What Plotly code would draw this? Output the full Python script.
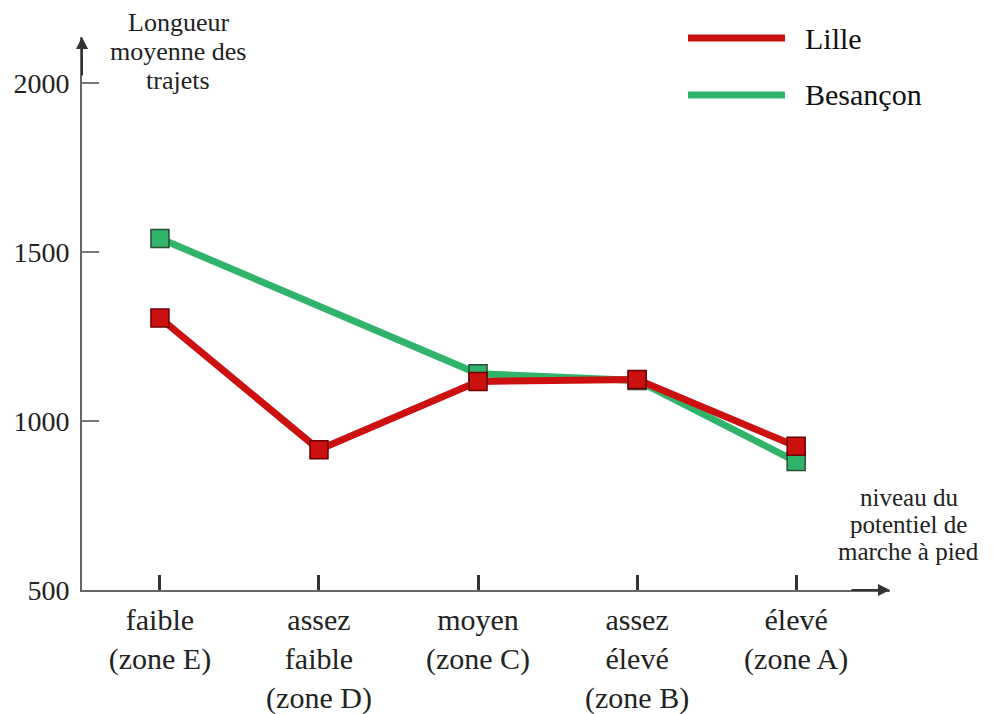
import plotly.graph_objects as go

categories = ["faible<br>(zone E)", "assez<br>faible<br>(zone D)", "moyen<br>(zone C)",
              "assez<br>élevé<br>(zone B)", "élevé<br>(zone A)"]
lille = [1305, 915, 1117, 1123, 925]
besancon = [1540, None, 1140, 1120, 880]
y_ticks = [500, 1000, 1500, 2000]

# page body has an 8px margin: the figure is drawn 8px right and down
OFF = 8
W, H = 993 - OFF, 714 - OFF
# plot area in screen pixels: x 82..890, y 37..590
L, T = 82 - OFF, 37 - OFF
R = W - (890 - OFF)
B = H - (590 - OFF)
PW, PH = W - L - R, H - T - B
FONT = "Liberation Serif"
RED, RED_EDGE = "#cc1010", "#6a0000"
GREEN, GREEN_EDGE = "#30b46c", "#2c4a36"


def px(x):
    return (x - OFF - L) / PW


def py(y):
    return (T + PH - (y - OFF)) / PH


fig = go.Figure()
fig.add_trace(go.Scatter(
    x=categories, y=besancon, mode="lines+markers", connectgaps=True, name="Besançon",
    line=dict(color=GREEN, width=7),
    marker=dict(symbol="square", size=18, color=GREEN, line=dict(color=GREEN_EDGE, width=1.5)),
))
fig.add_trace(go.Scatter(
    x=categories, y=lille, mode="lines+markers", name="Lille",
    line=dict(color=RED, width=7),
    marker=dict(symbol="square", size=18, color=RED, line=dict(color=RED_EDGE, width=1.5)),
))

annotations = []
# y-axis title
for text, yc in [("Longueur", 22), ("moyenne des", 51), ("trajets", 80)]:
    annotations.append(dict(xref="paper", yref="paper", x=px(178), y=py(yc), text=text,
                            showarrow=False, xanchor="center", yanchor="middle",
                            font=dict(family=FONT, size=26, color="#222")))
# x-axis title
for text, yc in [("niveau du", 497), ("potentiel de", 524), ("marche à pied", 551)]:
    annotations.append(dict(xref="paper", yref="paper", x=px(909), y=py(yc), text=text,
                            showarrow=False, xanchor="center", yanchor="middle",
                            font=dict(family=FONT, size=25, color="#222")))
# legend texts
for text, yc in [("Lille", 38), ("Besançon", 95)]:
    annotations.append(dict(xref="paper", yref="paper", x=px(803), y=py(yc), text=text,
                            showarrow=False, xanchor="left", yanchor="middle",
                            font=dict(family=FONT, size=30, color="#111")))
# axis arrows
annotations.append(dict(xref="paper", yref="paper", x=0, y=1, ax=0, ay=40,
                        showarrow=True, arrowhead=2, arrowsize=1.2, arrowwidth=2,
                        arrowcolor="#333", text=""))
annotations.append(dict(xref="paper", yref="paper", x=1, y=0, ax=-40, ay=0,
                        showarrow=True, arrowhead=2, arrowsize=1.2, arrowwidth=2,
                        arrowcolor="#333", text=""))

shapes = [
    dict(type="line", xref="paper", yref="paper", x0=px(688), x1=px(785), y0=py(38), y1=py(38),
         line=dict(color=RED, width=7)),
    dict(type="line", xref="paper", yref="paper", x0=px(688), x1=px(785), y0=py(95), y1=py(95),
         line=dict(color=GREEN, width=7)),
]

fig.update_layout(
    width=W, height=H,
    margin=dict(l=L, r=R, t=T, b=B, pad=0, autoexpand=False),
    paper_bgcolor="white", plot_bgcolor="white",
    showlegend=False,
    font=dict(family=FONT, color="#222"),
    annotations=annotations,
    shapes=shapes,
    xaxis=dict(
        type="category", range=[-0.49, 4.59], showgrid=False, zeroline=False,
        automargin=False,
        showline=True, linecolor="#666", linewidth=2,
        ticks="inside", ticklen=15, tickwidth=3, tickcolor="#333",
        tickfont=dict(family=FONT, size=30, color="#222"),
        ticklabelstandoff=2,
    ),
    yaxis=dict(
        range=[500, 2136], showgrid=False, zeroline=False,
        automargin=False,
        showline=True, linecolor="#666", linewidth=2,
        ticks="inside", ticklen=17, tickwidth=1.5, tickcolor="#777",
        tickvals=y_ticks, ticktext=[str(v) for v in y_ticks],
        tickfont=dict(family=FONT, size=28, color="#222"),
        ticklabelstandoff=5,
    ),
)

fig.write_html("out.html")
